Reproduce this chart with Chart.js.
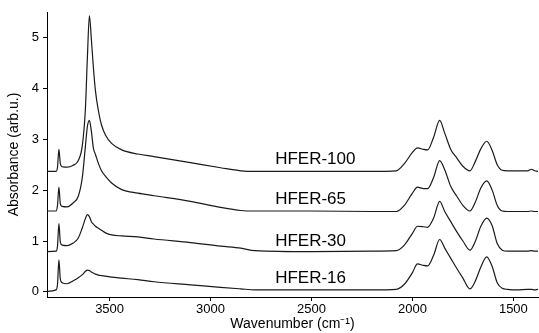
<!DOCTYPE html>
<html>
<head>
<meta charset="utf-8">
<script src="https://cdn.jsdelivr.net/npm/chart.js@4/dist/chart.umd.min.js"></script>
<style>
  html, body { margin: 0; padding: 0; background: #fff; }
  #wrap { width: 539px; height: 333px; }
</style>
</head>
<body>
<div id="wrap"><canvas id="myChart"></canvas></div>
<script>
// wavenumber grid (cm-1) shared by all spectra
const wavenumbers = [3810, 3765, 3758, 3751, 3744, 3735, 3710, 3680, 3655, 3635, 3620, 3610, 3600, 3590, 3580, 3570, 3555, 3540, 3520, 3490, 3440, 3360, 3280, 3100, 2950, 2850, 2780, 2500, 2200, 2080, 2040, 2000, 1975, 1945, 1925, 1895, 1865, 1840, 1810, 1780, 1750, 1715, 1690, 1660, 1632, 1605, 1580, 1555, 1530, 1480, 1430, 1410, 1395, 1378];

const hfer100 = [2.37, 2.37, 2.45, 2.80, 2.52, 2.46, 2.45, 2.49, 2.58, 2.88, 3.58, 4.60, 5.43, 4.95, 4.40, 3.95, 3.55, 3.28, 3.08, 2.92, 2.79, 2.71, 2.66, 2.54, 2.44, 2.38, 2.37, 2.37, 2.37, 2.38, 2.52, 2.74, 2.83, 2.80, 2.79, 3.04, 3.37, 3.12, 2.80, 2.63, 2.47, 2.38, 2.55, 2.82, 2.96, 2.78, 2.50, 2.39, 2.38, 2.38, 2.38, 2.41, 2.38, 2.37];
const hfer65 = [1.59, 1.59, 1.70, 2.06, 1.73, 1.68, 1.67, 1.75, 1.88, 2.25, 2.85, 3.25, 3.37, 3.15, 2.82, 2.70, 2.52, 2.38, 2.27, 2.14, 2.01, 1.94, 1.89, 1.78, 1.66, 1.60, 1.59, 1.59, 1.58, 1.58, 1.70, 1.94, 2.06, 2.03, 2.03, 2.25, 2.58, 2.40, 2.07, 1.88, 1.70, 1.59, 1.75, 2.05, 2.18, 2.00, 1.70, 1.59, 1.58, 1.58, 1.58, 1.59, 1.58, 1.58];
const hfer30 = [0.79, 0.80, 0.90, 1.34, 0.98, 0.92, 0.91, 0.96, 1.06, 1.26, 1.44, 1.52, 1.48, 1.38, 1.33, 1.29, 1.25, 1.21, 1.16, 1.12, 1.10, 1.08, 1.04, 0.97, 0.90, 0.86, 0.81, 0.79, 0.80, 0.81, 0.92, 1.15, 1.29, 1.28, 1.27, 1.45, 1.78, 1.58, 1.38, 1.18, 1.00, 0.82, 0.98, 1.30, 1.45, 1.30, 0.95, 0.82, 0.80, 0.80, 0.80, 0.81, 0.80, 0.80];
const hfer16 = [0.01, 0.04, 0.15, 0.63, 0.25, 0.18, 0.16, 0.22, 0.28, 0.34, 0.40, 0.43, 0.42, 0.39, 0.37, 0.35, 0.33, 0.32, 0.31, 0.29, 0.27, 0.24, 0.20, 0.14, 0.09, 0.06, 0.04, 0.04, 0.04, 0.05, 0.15, 0.38, 0.55, 0.52, 0.51, 0.72, 1.03, 0.86, 0.66, 0.46, 0.27, 0.06, 0.20, 0.50, 0.69, 0.50, 0.18, 0.07, 0.05, 0.04, 0.05, 0.05, 0.04, 0.05];

const seriesNames = ["HFER-100", "HFER-65", "HFER-30", "HFER-16"];
const seriesValues = [hfer100, hfer65, hfer30, hfer16];
// where each name sits (wavenumber of left edge, absorbance of centre)
const labelX = 2680;
const labelY = [2.60, 1.81, 0.99, 0.26];

const xTicks = [3500, 3000, 2500, 2000, 1500];
const yTicks = [0, 1, 2, 3, 4, 5];

const FONT = "'Liberation Sans', Arial, Helvetica, sans-serif";

const seriesLabels = {
    id: 'seriesLabels',
    afterDatasetsDraw(chart) {
        const ctx = chart.ctx;
        const x = chart.scales.x, y = chart.scales.y;
        ctx.save();
        ctx.font = "17px " + FONT;
        ctx.fillStyle = "#000";
        ctx.textBaseline = "middle";
        ctx.textAlign = "left";
        seriesNames.forEach((name, i) => {
            ctx.fillText(name, x.getPixelForValue(labelX), y.getPixelForValue(labelY[i]));
        });
        ctx.restore();
    }
};

new Chart(document.getElementById("myChart"), {
    type: "line",
    data: {
        datasets: seriesValues.map((vals, i) => ({
            label: seriesNames[i],
            data: wavenumbers.map((w, j) => ({ x: w, y: vals[j] })),
            borderColor: "#1a1a1a",
            borderWidth: 1.2,
            pointRadius: 0,
            fill: false,
            cubicInterpolationMode: "monotone"
        }))
    },
    options: {
        responsive: true,
        maintainAspectRatio: false,
        animation: false,
        layout: { padding: { top: 12, right: 1, left: 0, bottom: 0 } },
        plugins: { legend: { display: false }, tooltip: { enabled: false } },
        scales: {
            x: {
                type: "linear",
                reverse: true,
                min: 1378,
                max: 3810,
                afterBuildTicks: s => { s.ticks = xTicks.map(v => ({ value: v })); },
                afterFit: s => { s.height = 36; },
                border: { color: "#000", width: 1 },
                grid: { drawOnChartArea: false, color: "#000", tickLength: 4 },
                ticks: { color: "#000", font: { family: FONT, size: 13 }, padding: 1, maxRotation: 0, callback: v => String(v) },
                title: { display: true, text: "Wavenumber (cm\u207B\u00B9)", color: "#000", font: { family: FONT, size: 14 }, padding: { top: 1, bottom: 0 } }
            },
            y: {
                min: -0.1,
                max: 5.5,
                afterBuildTicks: s => { s.ticks = yTicks.map(v => ({ value: v })); },
                afterFit: s => { s.width = 47; },
                border: { color: "#000", width: 1 },
                grid: { drawOnChartArea: false, color: "#000", tickLength: 4 },
                ticks: { color: "#000", font: { family: FONT, size: 13 }, padding: 4, callback: v => String(v) },
                title: { display: true, text: "Absorbance (arb.u.)", color: "#000", font: { family: FONT, size: 14 }, padding: { top: 6, bottom: 0 } }
            }
        }
    },
    plugins: [seriesLabels]
});
</script>
</body>
</html>
